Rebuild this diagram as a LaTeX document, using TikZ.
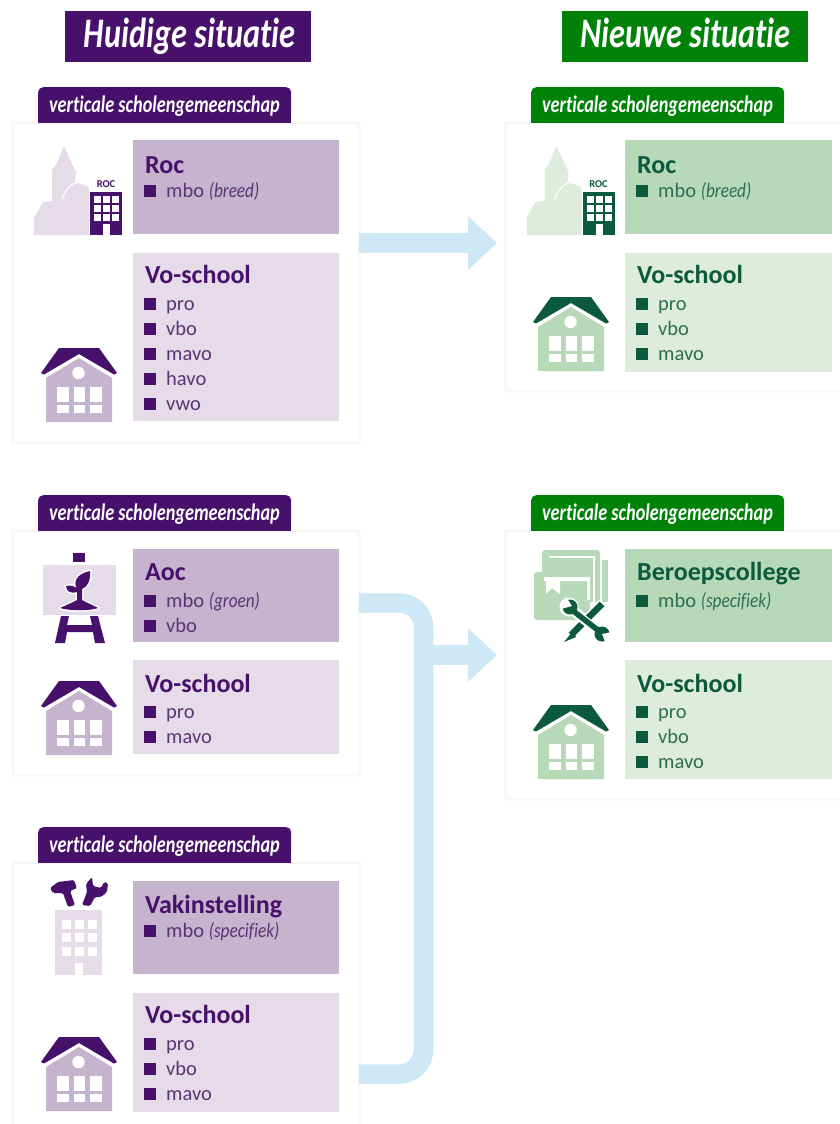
\documentclass[tikz,border=0pt]{standalone}
\usepackage{fontspec}
\setmainfont{Carlito}[Ligatures=NoCommon]
\newfontfamily\condbi[FakeStretch=0.77,Ligatures=NoCommon]{Carlito}
\newfontfamily\narrowit[FakeStretch=0.84,Ligatures=NoCommon]{Carlito}
\usetikzlibrary{arrows.meta}
\definecolor{pdark}{HTML}{46106B}
\definecolor{ptext}{HTML}{5A3474}
\definecolor{pmid}{HTML}{C6B3CD}
\definecolor{plight}{HTML}{E5DBE9}
\definecolor{gbanner}{HTML}{008208}
\definecolor{gdark}{HTML}{0B5A3E}
\definecolor{gtext}{HTML}{2E6E52}
\definecolor{gmid}{HTML}{B7D9B8}
\definecolor{glight}{HTML}{DDECDD}
\definecolor{flowblue}{HTML}{CFE8F5}
\tikzset{
  x=1pt,y=-1pt,
  panelbox/.style={anchor=north west,inner sep=0pt,minimum width=206pt},
  cardbox/.style={anchor=north west,inner sep=0pt,fill=white,draw=black!4,line width=1pt,
    preaction={draw=black!2,line width=5pt}},
  tabbox/.style={anchor=north west,inner sep=0pt,minimum width=253pt,minimum height=30pt,rounded corners=5pt},
  tabtext/.style={text=white,font=\condbi\bfseries\itshape\fontsize{23.7}{24}\selectfont,inner sep=0pt,anchor=base},
  banner/.style={anchor=north west,inner sep=0pt,minimum width=246pt,minimum height=51pt},
  bannertext/.style={text=white,font=\condbi\bfseries\itshape\fontsize{42}{44}\selectfont,inner sep=0pt,anchor=base},
  heading/.style={anchor=base west,inner sep=0pt,text=ink,font=\bfseries\fontsize{26}{28}\selectfont},
  rowtext/.style={anchor=base west,inner sep=0pt,text=inktext,font=\fontsize{20.5}{22}\selectfont},
  bullet/.style={inner sep=0pt,minimum size=12pt,fill=ink},
  flow/.style={draw=flowblue,line width=19.5pt},
  flowhead/.style={-{Triangle[width=52pt,length=29pt]}},
}
\newcommand{\usepurple}{\colorlet{ink}{pdark}\colorlet{inktext}{ptext}\colorlet{tone}{pmid}\colorlet{pale}{plight}\colorlet{head}{pdark}}
\newcommand{\usegreen}{\colorlet{ink}{gdark}\colorlet{inktext}{gtext}\colorlet{tone}{gmid}\colorlet{pale}{glight}\colorlet{head}{gbanner}}
\newcommand{\nit}[1]{{\narrowit\itshape #1}}
% \rowitem{name}{x}{baseline}{text}
\newcommand{\rowitem}[4]{%
  \node[bullet] (#1s) at (#2+6,#3-6.5) {};
  \node[rowtext] (#1) at (#2+22,#3) {#4};}
% \tabat{name}{x}{y}: tab whose foot sits on the card top at y+36
\newcommand{\tabat}[3]{%
  \node[tabbox,fill=head] (#1) at (#2,#3) {};
  \fill[head] (#2,#3+15) rectangle (#2+253,#3+36);
  \node[tabtext] (#1t) at (#2+126.5,#3+25) {verticale scholengemeenschap};}
% \housepic{x}{y}
\newcommand{\housepic}[2]{%
  \begin{scope}[shift={(#1,#2)}]
    \fill[ink] (0,25) -- (18,0) -- (58,0) -- (76,25) -- (73,26.5) -- (38,6) -- (3,26.5) -- cycle;
    \fill[tone] (5,30) -- (38,10) -- (71,30) -- (71,74) -- (5,74) -- cycle;
    \fill[white] (37.5,25) circle (6.2);
    \foreach \cx in {16,32.5,49} {
      \fill[white] (\cx,39) rectangle ++(11.5,15);
      \fill[white] (\cx,57) rectangle ++(11.5,7.5);
    }
  \end{scope}}
% \rocpic{dx}
\newcommand{\rocpic}[1]{%
  \begin{scope}[shift={(#1,0)}]
    \fill[pale] (34,235) -- (34,218) -- (43,202) -- (52,201) -- (52,170) -- (56,165) -- (64,146) -- (73,166) -- (76,172)
      -- (75,182) -- (89,186) -- (89,235) -- cycle;
    \draw[white,line width=1.2pt] (62,199) .. controls (66,188) and (74,181) .. (80,183) .. controls (84,184) and (87,185) .. (90,187);
    \fill[ink] (90,192) rectangle (122,235);
    \foreach \cx in {94,103,112}\foreach \cy in {196,205,214} {\fill[white] (\cx,\cy) rectangle ++(7,6.5);}
    \fill[white] (103,224) rectangle (110,235);
    \node[inner sep=0pt,text=ink,font=\bfseries\fontsize{10.5}{11}\selectfont] (roclabel#1) at (106,184) {ROC};
  \end{scope}}
\begin{document}
\begin{tikzpicture}
\path[use as bounding box,clip] (0,0) rectangle (840,1124);
\fill[white] (0,0) rectangle (840,1124);

\coordinate (t1) at (497,243);
\coordinate (t2) at (497,655);
\coordinate (turn) at (423.5,655);
\coordinate (ctop) at (423.5,603);
\coordinate (cbot) at (423.5,1074);

% banners
\node[banner,fill=pdark] (hb) at (65,11) {};
\node[bannertext] (ht) at (189.5,48) {Huidige situatie};
\node[banner,fill=gbanner] (nb) at (562,11) {};
\node[bannertext] (nt) at (685.5,48) {Nieuwe situatie};

% ---------- left column
\begin{scope}\usepurple
\node[cardbox,minimum width=345pt,minimum height=319pt] (c1) at (13,123) {};
\node[cardbox,minimum width=345pt,minimum height=243pt] (c3) at (13,531) {};
\node[cardbox,minimum width=345pt,minimum height=300pt] (c5) at (13,863) {};
\tabat{tab1}{38}{87}
\tabat{tab3}{38}{495}
\tabat{tab5}{38}{827}

% card 1
\node[panelbox,fill=tone,minimum height=94pt] (p1a) at (133,140) {};
\node[panelbox,fill=pale,minimum height=168pt] (p1b) at (133,253) {};
\node[heading] (h1a) at (145,173) {Roc};
\rowitem{r1a}{144}{197}{mbo \nit{(breed)}}
\node[heading] (h1b) at (145,283) {Vo-school};
\rowitem{r1b}{144}{310}{pro}
\rowitem{r1c}{144}{335}{vbo}
\rowitem{r1d}{144}{360}{mavo}
\rowitem{r1e}{144}{385}{havo}
\rowitem{r1f}{144}{410}{vwo}
\rocpic{0}
\housepic{41}{348}

% card 3
\node[panelbox,fill=tone,minimum height=93pt] (p3a) at (133,549) {};
\node[panelbox,fill=pale,minimum height=94pt] (p3b) at (133,660) {};
\node[heading] (h3a) at (145,580) {Aoc};
\rowitem{r3a}{144}{607}{mbo \nit{(groen)}}
\rowitem{r3b}{144}{632}{vbo}
\node[heading] (h3b) at (145,692) {Vo-school};
\rowitem{r3c}{144}{718}{pro}
\rowitem{r3d}{144}{743}{mavo}
\housepic{41}{681}
% easel
\fill[ink] (73,553) rectangle (85,562);
\fill[pale] (43,565) rectangle (116,615);
\path[fill=ink,preaction={draw=white,line width=3pt,line join=round}]
  (60,608) .. controls (66,605) and (72,603) .. (77,600) -- (77,592)
  .. controls (72,594) and (66,592) .. (66,586) .. controls (71,585) and (75,586) .. (77,589)
  .. controls (73,582) and (76,574) .. (90,571) .. controls (91,579) and (88,587) .. (82,589)
  -- (82,600) .. controls (87,603) and (93,605) .. (98,608) .. controls (90,611) and (70,611) .. (60,608) -- cycle;
\fill[ink] (55,643) -- (61,616) -- (69,616) -- (67,625) -- (92,625) -- (90,616) -- (98,616) -- (105,643) -- (95,643)
  -- (93,632) -- (67,632) -- (65,643) -- cycle;

% card 5
\node[panelbox,fill=tone,minimum height=93pt] (p5a) at (133,881) {};
\node[panelbox,fill=pale,minimum height=119pt] (p5b) at (133,993) {};
\node[heading] (h5a) at (145,913) {Vakinstelling};
\rowitem{r5a}{144}{937}{mbo \nit{(specifiek)}}
\node[heading] (h5b) at (145,1023) {Vo-school};
\rowitem{r5b}{144}{1050}{pro}
\rowitem{r5c}{144}{1075}{vbo}
\rowitem{r5d}{144}{1100}{mavo}
\housepic{41}{1037}
% vakinstelling building
\fill[pale] (55,910) rectangle (102,975);
\foreach \cx in {62,75,88}\foreach \cy in {920,933,947} {\fill[white] (\cx,\cy) rectangle ++(8.5,8.5);}
\fill[white] (75,963) rectangle (83,975);
\fill[ink,rounded corners=1.5pt] (50,888) -- (58,882) -- (74,880) -- (77,888) -- (70,891) -- (75,905) -- (68,907) -- (63,893) -- (53,893) -- cycle;
\fill[ink,rounded corners=1.5pt] (82,905) -- (87,892) -- (86,884) -- (92,877) -- (93,886) -- (101,888) -- (104,882) -- (108,883)
  -- (107,892) -- (101,897) -- (95,897) -- (90,906) -- cycle;
\end{scope}

% ---------- right column
\begin{scope}\usegreen
\node[cardbox,minimum width=360pt,minimum height=267pt] (c2) at (506,123) {};
\node[cardbox,minimum width=360pt,minimum height=267pt] (c4) at (506,531) {};
\tabat{tab2}{531}{87}
\tabat{tab4}{531}{495}

% card 2
\node[panelbox,fill=tone,minimum height=94pt,minimum width=207pt] (p2a) at (625,140) {};
\node[panelbox,fill=pale,minimum height=119pt,minimum width=207pt] (p2b) at (625,253) {};
\node[heading] (h2a) at (637,173) {Roc};
\rowitem{r2a}{636}{197}{mbo \nit{(breed)}}
\node[heading] (h2b) at (637,283) {Vo-school};
\rowitem{r2b}{636}{310}{pro}
\rowitem{r2c}{636}{335}{vbo}
\rowitem{r2d}{636}{360}{mavo}
\rocpic{492.5}
\housepic{533}{297}

% card 4
\node[panelbox,fill=tone,minimum height=93pt,minimum width=207pt] (p4a) at (625,549) {};
\node[panelbox,fill=pale,minimum height=119pt,minimum width=207pt] (p4b) at (625,660) {};
\node[heading] (h4a) at (637,580) {Beroepscollege};
\rowitem{r4a}{636}{607}{mbo \nit{(specifiek)}}
\node[heading] (h4b) at (637,692) {Vo-school};
\rowitem{r4b}{636}{718}{pro}
\rowitem{r4c}{636}{743}{vbo}
\rowitem{r4d}{636}{768}{mavo}
\housepic{533}{705}
% books
\fill[tone,rounded corners=3pt] (542,550) rectangle (600,602);
\fill[tone] (602,560) rectangle (608,602);
\draw[white,line width=2pt] (549,557) -- (594,557) -- (594,602);
\fill[tone,rounded corners=3pt] (534,572) rectangle (590,620);
\fill[white] (544,577) -- (590,577) -- (590,600) -- (587,600) -- (587,581) -- (560,581) -- (560,594) -- (552,588) -- (546,594) -- (546,581) -- (544,581) -- cycle;
% crossed tools
\draw[white,line width=10pt] (568,606) -- (603,634);
\draw[white,line width=10pt] (602,604) -- (567,640);
\fill[white] (569,607) circle (9.5);
\draw[ink,line width=6.5pt] (602,604) -- (571,635);
\fill[ink] (573,631) -- (576,637) -- (564,642) -- cycle;
\draw[white,line width=9pt] (575,613) -- (597,630);
\draw[ink,line width=5.5pt] (572,610) -- (599,631);
\fill[ink] (570,607) circle (7.5);
\fill[ink] (602,634) circle (7.5);
\fill[white] (566,597) -- (572,606) -- (561,609) -- cycle;
\fill[white] (606,644) -- (602,634) -- (612,632) -- cycle;
\end{scope}

% ---------- flows
\draw[flow,flowhead] (c1.east |- t1) -- (t1);
\draw[flow,rounded corners=24pt] (c3.east |- ctop) -| (cbot) -- (c5.east |- cbot);
\draw[flow,flowhead] (turn) -- (t2);
\end{tikzpicture}
\end{document}
